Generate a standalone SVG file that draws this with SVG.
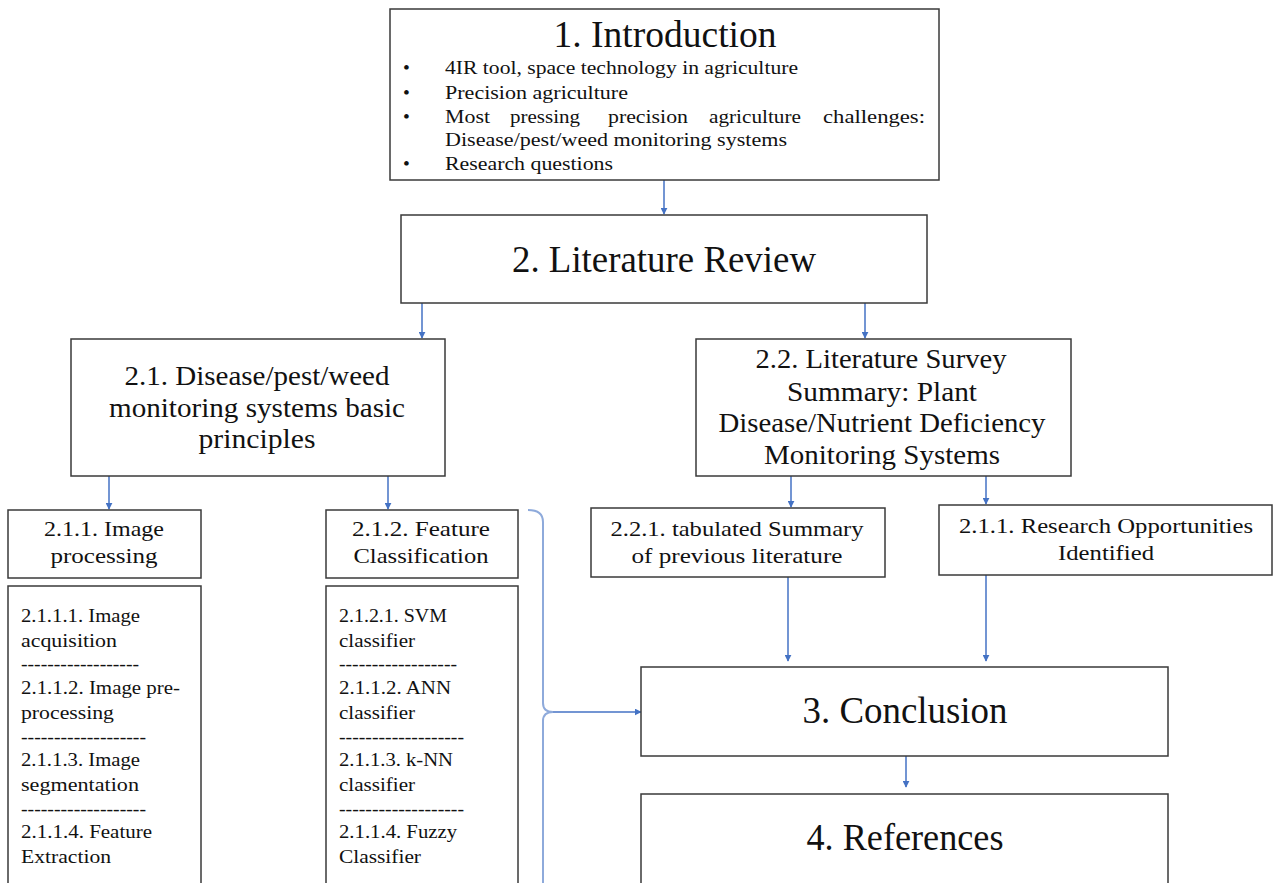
<svg xmlns="http://www.w3.org/2000/svg" width="1274" height="883" viewBox="0 0 1274 883">
<style>
.box{fill:#fff;stroke:#3a3a3a;stroke-width:1.5}
text{font-family:"Liberation Serif","Times New Roman",serif;fill:#111}
.h1{font-size:37px;text-anchor:middle}
.h2{font-size:26.5px;text-anchor:middle}
.h3{font-size:22px;text-anchor:middle}
.b{font-size:19.5px}
.li{font-size:19.5px}
.arr{stroke:#4472c4;stroke-width:1.5;fill:none;marker-end:url(#ah)}
.brace{stroke:#8eaadb;stroke-width:2;fill:none}
</style>
<defs>
<marker id="ah" viewBox="0 0 10 10" refX="9" refY="5" markerWidth="7" markerHeight="7" orient="auto" markerUnits="userSpaceOnUse"><path d="M0,0 L10,5 L0,10 z" fill="#4472c4"/></marker>
</defs>
<rect width="1274" height="883" fill="#fff"/>
<g id="connectors">
<line class="arr" x1="664" y1="180" x2="664" y2="214"/>
<line class="arr" x1="422" y1="303" x2="422" y2="338"/>
<line class="arr" x1="865" y1="303" x2="865" y2="338"/>
<line class="arr" x1="109" y1="476" x2="109" y2="509"/>
<line class="arr" x1="388" y1="476" x2="388" y2="509"/>
<line class="arr" x1="791" y1="476" x2="791" y2="507"/>
<line class="arr" x1="986" y1="476" x2="986" y2="504"/>
<line class="arr" x1="788" y1="577" x2="788" y2="661"/>
<line class="arr" x1="986" y1="575" x2="986" y2="661"/>
<line class="arr" x1="906" y1="756" x2="906" y2="787"/>
<path class="brace" d="M528,510 Q543,510 543,522 L543,703 Q543,712 553,712 Q543,712 543,721 L543,883"/>
<line class="arr" x1="553" y1="712" x2="641" y2="712"/>
</g>
<g id="intro">
<rect class="box" x="390" y="9" width="549" height="171"/>
<text class="h1" x="665" y="47" textLength="223" lengthAdjust="spacingAndGlyphs">1. Introduction</text>
<text class="b" x="403" y="74">•</text><text class="b" x="445" y="74" textLength="353" lengthAdjust="spacingAndGlyphs">4IR tool, space technology in agriculture</text>
<text class="b" x="403" y="99">•</text><text class="b" x="445" y="99" textLength="183" lengthAdjust="spacingAndGlyphs">Precision agriculture</text>
<text class="b" x="403" y="123">•</text>
<text class="b" x="445" y="123" textLength="45" lengthAdjust="spacingAndGlyphs">Most</text>
<text class="b" x="510" y="123" textLength="70" lengthAdjust="spacingAndGlyphs">pressing</text>
<text class="b" x="608" y="123" textLength="80" lengthAdjust="spacingAndGlyphs">precision</text>
<text class="b" x="709" y="123" textLength="92" lengthAdjust="spacingAndGlyphs">agriculture</text>
<text class="b" x="823" y="123" textLength="102" lengthAdjust="spacingAndGlyphs">challenges:</text>
<text class="b" x="445" y="146" textLength="342" lengthAdjust="spacingAndGlyphs">Disease/pest/weed monitoring systems</text>
<text class="b" x="403" y="170">•</text><text class="b" x="445" y="170" textLength="168" lengthAdjust="spacingAndGlyphs">Research questions</text>
</g>
<g id="litreview">
<rect class="box" x="401" y="215" width="526" height="88"/>
<text class="h1" x="664" y="272" textLength="304" lengthAdjust="spacingAndGlyphs">2. Literature Review</text>
</g>
<g id="n21">
<rect class="box" x="71" y="339" width="374" height="137"/>
<text class="h2" x="257" y="385" textLength="265" lengthAdjust="spacingAndGlyphs">2.1. Disease/pest/weed</text>
<text class="h2" x="257" y="417" textLength="296" lengthAdjust="spacingAndGlyphs">monitoring systems basic</text>
<text class="h2" x="257" y="448" textLength="117" lengthAdjust="spacingAndGlyphs">principles</text>
</g>
<g id="n22">
<rect class="box" x="696" y="339" width="375" height="137"/>
<text class="h2" x="881" y="368" textLength="251" lengthAdjust="spacingAndGlyphs">2.2. Literature Survey</text>
<text class="h2" x="882" y="401" textLength="190" lengthAdjust="spacingAndGlyphs">Summary: Plant</text>
<text class="h2" x="882" y="432" textLength="327" lengthAdjust="spacingAndGlyphs">Disease/Nutrient Deficiency</text>
<text class="h2" x="882" y="464" textLength="236" lengthAdjust="spacingAndGlyphs">Monitoring Systems</text>
</g>
<g id="n211">
<rect class="box" x="8" y="510" width="193" height="68"/>
<text class="h3" x="104" y="536" textLength="120" lengthAdjust="spacingAndGlyphs">2.1.1. Image</text>
<text class="h3" x="104" y="563" textLength="107" lengthAdjust="spacingAndGlyphs">processing</text>
</g>
<g id="n211list">
<rect class="box" x="8" y="586" width="193" height="300"/>
<text class="li" x="21" y="622" textLength="119" lengthAdjust="spacingAndGlyphs">2.1.1.1. Image</text>
<text class="li" x="21" y="647" textLength="96" lengthAdjust="spacingAndGlyphs">acquisition</text>
<text class="li" x="21" y="670" textLength="118" lengthAdjust="spacingAndGlyphs">------------------</text>
<text class="li" x="21" y="694" textLength="159" lengthAdjust="spacingAndGlyphs">2.1.1.2. Image pre-</text>
<text class="li" x="21" y="719" textLength="93" lengthAdjust="spacingAndGlyphs">processing</text>
<text class="li" x="21" y="743" textLength="125" lengthAdjust="spacingAndGlyphs">-------------------</text>
<text class="li" x="21" y="766" textLength="119" lengthAdjust="spacingAndGlyphs">2.1.1.3. Image</text>
<text class="li" x="21" y="791" textLength="118" lengthAdjust="spacingAndGlyphs">segmentation</text>
<text class="li" x="21" y="815" textLength="125" lengthAdjust="spacingAndGlyphs">-------------------</text>
<text class="li" x="21" y="838" textLength="131" lengthAdjust="spacingAndGlyphs">2.1.1.4. Feature</text>
<text class="li" x="21" y="863" textLength="90" lengthAdjust="spacingAndGlyphs">Extraction</text>
</g>
<g id="n212">
<rect class="box" x="326" y="510" width="192" height="68"/>
<text class="h3" x="421" y="536" textLength="138" lengthAdjust="spacingAndGlyphs">2.1.2.  Feature</text>
<text class="h3" x="421" y="563" textLength="135" lengthAdjust="spacingAndGlyphs">Classification</text>
</g>
<g id="n212list">
<rect class="box" x="326" y="586" width="192" height="300"/>
<text class="li" x="339" y="622" textLength="108" lengthAdjust="spacingAndGlyphs">2.1.2.1. SVM</text>
<text class="li" x="339" y="647" textLength="76" lengthAdjust="spacingAndGlyphs">classifier</text>
<text class="li" x="339" y="670" textLength="118" lengthAdjust="spacingAndGlyphs">------------------</text>
<text class="li" x="339" y="694" textLength="112" lengthAdjust="spacingAndGlyphs">2.1.1.2. ANN</text>
<text class="li" x="339" y="719" textLength="76" lengthAdjust="spacingAndGlyphs">classifier</text>
<text class="li" x="339" y="743" textLength="125" lengthAdjust="spacingAndGlyphs">-------------------</text>
<text class="li" x="339" y="766" textLength="114" lengthAdjust="spacingAndGlyphs">2.1.1.3. k-NN</text>
<text class="li" x="339" y="791" textLength="76" lengthAdjust="spacingAndGlyphs">classifier</text>
<text class="li" x="339" y="815" textLength="125" lengthAdjust="spacingAndGlyphs">-------------------</text>
<text class="li" x="339" y="838" textLength="118" lengthAdjust="spacingAndGlyphs">2.1.1.4. Fuzzy</text>
<text class="li" x="339" y="863" textLength="82" lengthAdjust="spacingAndGlyphs">Classifier</text>
</g>
<g id="n221">
<rect class="box" x="591" y="508" width="294" height="69"/>
<text class="h3" x="737" y="536" textLength="253" lengthAdjust="spacingAndGlyphs">2.2.1. tabulated Summary</text>
<text class="h3" x="737" y="563" textLength="211" lengthAdjust="spacingAndGlyphs">of previous literature</text>
</g>
<g id="nresearch">
<rect class="box" x="939" y="505" width="333" height="70"/>
<text class="h3" x="1106" y="533" textLength="294" lengthAdjust="spacingAndGlyphs">2.1.1. Research Opportunities</text>
<text class="h3" x="1106" y="560" textLength="96" lengthAdjust="spacingAndGlyphs">Identified</text>
</g>
<g id="conclusion">
<rect class="box" x="641" y="667" width="527" height="89"/>
<text class="h1" x="905" y="723" textLength="205" lengthAdjust="spacingAndGlyphs">3. Conclusion</text>
</g>
<g id="references">
<rect class="box" x="641" y="794" width="527" height="95"/>
<text class="h1" x="905" y="850" textLength="197" lengthAdjust="spacingAndGlyphs">4. References</text>
</g>
</svg>
